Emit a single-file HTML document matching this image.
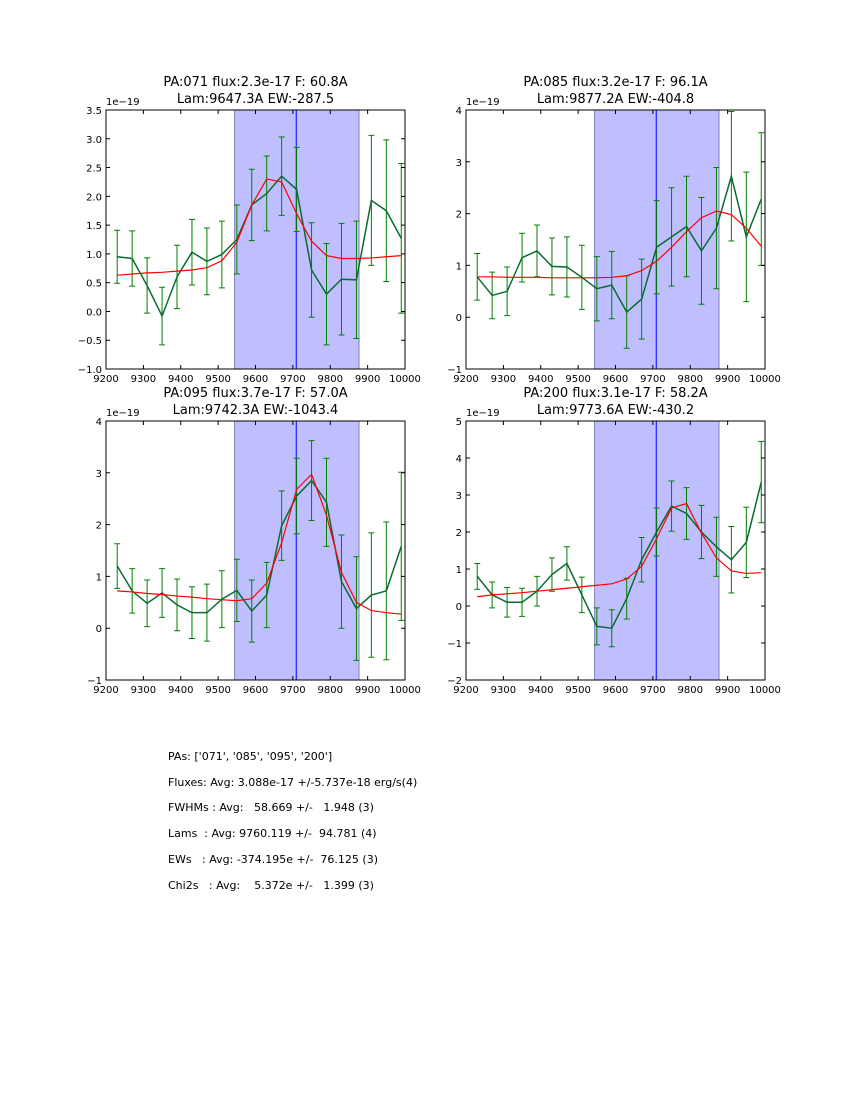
<!DOCTYPE html>
<html><head><meta charset="utf-8"><style>
body{margin:0;background:#fff;width:850px;height:1100px;overflow:hidden;font-family:"DejaVu Sans","Liberation Sans",sans-serif}
#stats{position:absolute;left:168px;top:744px;font-size:11px;white-space:pre;line-height:25.7px}
</style></head><body>
<svg id="fig" width="850" height="1100" style="position:absolute;left:0;top:0;font-family:'DejaVu Sans','Liberation Sans',sans-serif"></svg>
<div id="stats">PAs: ['071', '085', '095', '200']
Fluxes: Avg: 3.088e-17 +/-5.737e-18 erg/s(4)
FWHMs : Avg:   58.669 +/-   1.948 (3)
Lams  : Avg: 9760.119 +/-  94.781 (4)
EWs   : Avg: -374.195e +/-  76.125 (3)
Chi2s   : Avg:    5.372e +/-   1.399 (3)</div>
<script>
const xCats=[9230,9270,9310,9350,9390,9430,9470,9510,9550,9590,9630,9670,9710,9750,9790,9830,9870,9910,9950,9990];
const xTicks=[9200,9300,9400,9500,9600,9700,9800,9900,10000];
const flux1=[0.95,0.92,0.45,-0.08,0.6,1.03,0.87,0.99,1.25,1.85,2.05,2.35,2.12,0.72,0.3,0.56,0.55,1.93,1.75,1.27];
const err1=[0.46,0.48,0.48,0.5,0.55,0.57,0.58,0.58,0.6,0.62,0.65,0.68,0.73,0.82,0.88,0.97,1.02,1.13,1.23,1.3];
const model1=[0.63,0.65,0.67,0.68,0.70,0.72,0.76,0.88,1.2,1.85,2.3,2.25,1.7,1.22,0.97,0.92,0.92,0.93,0.95,0.97];
const yTicks1=[-1.0,-0.5,0.0,0.5,1.0,1.5,2.0,2.5,3.0,3.5];
const flux2=[0.78,0.42,0.5,1.15,1.28,0.98,0.97,0.77,0.55,0.62,0.1,0.35,1.35,1.55,1.75,1.28,1.72,2.72,1.55,2.28];
const err2=[0.45,0.45,0.47,0.47,0.5,0.55,0.58,0.62,0.62,0.65,0.7,0.77,0.9,0.95,0.97,1.03,1.17,1.25,1.25,1.28];
const model2=[0.78,0.78,0.77,0.77,0.77,0.76,0.76,0.76,0.76,0.77,0.8,0.9,1.08,1.35,1.65,1.92,2.05,1.98,1.72,1.37];
const yTicks2=[-1,0,1,2,3,4];
const flux3=[1.2,0.72,0.48,0.68,0.45,0.3,0.3,0.56,0.73,0.33,0.64,1.98,2.55,2.85,2.43,0.9,0.38,0.64,0.72,1.58];
const err3=[0.43,0.43,0.45,0.47,0.5,0.5,0.55,0.55,0.6,0.6,0.63,0.67,0.73,0.77,0.85,0.9,1.0,1.2,1.33,1.43];
const model3=[0.72,0.70,0.67,0.65,0.62,0.6,0.57,0.55,0.53,0.57,0.87,1.65,2.68,2.97,2.18,1.08,0.5,0.34,0.3,0.27];
const yTicks3=[-1,0,1,2,3,4];
const flux4=[0.8,0.3,0.1,0.1,0.4,0.85,1.15,0.3,-0.55,-0.6,0.2,1.25,2.0,2.7,2.5,2.0,1.6,1.25,1.72,3.35];
const err4=[0.35,0.35,0.4,0.38,0.4,0.45,0.45,0.48,0.5,0.5,0.55,0.6,0.65,0.68,0.7,0.72,0.8,0.9,0.95,1.1];
const model4=[0.25,0.3,0.33,0.36,0.4,0.44,0.48,0.52,0.56,0.6,0.73,1.07,1.82,2.65,2.77,1.97,1.3,0.95,0.88,0.9];
const yTicks4=[-2,-1,0,1,2,3,4,5];
const titles=[["PA:071 flux:2.3e-17 F: 60.8A","Lam:9647.3A EW:-287.5"],["PA:085 flux:3.2e-17 F: 96.1A","Lam:9877.2A EW:-404.8"],["PA:095 flux:3.7e-17 F: 57.0A","Lam:9742.3A EW:-1043.4"],["PA:200 flux:3.1e-17 F: 58.2A","Lam:9773.6A EW:-430.2"]];
const bandLo=9544,bandHi=9877,lineX=9709;
const NS="http://www.w3.org/2000/svg";
const svg=document.getElementById('fig');
function mk(t,a,p){const e=document.createElementNS(NS,t);for(const k in a)e.setAttribute(k,a[k]);(p||svg).appendChild(e);return e;}
const panels=[
 {x:106,y:110,f:flux1,e:err1,m:model1,yt:yTicks1,yl:[-1,3.5],dec:1},
 {x:466,y:110,f:flux2,e:err2,m:model2,yt:yTicks2,yl:[-1,4],dec:0},
 {x:106,y:421,f:flux3,e:err3,m:model3,yt:yTicks3,yl:[-1,4],dec:0},
 {x:466,y:421,f:flux4,e:err4,m:model4,yt:yTicks4,yl:[-2,5],dec:0}];
const W=299,H=259;
panels.forEach((P,pi)=>{
 const g=mk('g',{});
 
 
 const sx=v=>P.x+(v-9200)/800*W;
 const sy=v=>P.y+H-(v-P.yl[0])/(P.yl[1]-P.yl[0])*H;
 const cp='cp'+pi;
 const c=mk('clipPath',{id:cp},g);mk('rect',{x:P.x,y:P.y,width:W,height:H},c);
 const band=mk('rect',{x:sx(bandLo),y:P.y,width:sx(bandHi)-sx(bandLo),height:H,fill:'#bfbfff',stroke:'#8080c0','stroke-width':1},g);
 
 
 const vl=mk('line',{x1:sx(lineX),x2:sx(lineX),y1:P.y,y2:P.y+H,stroke:'#0000ff','stroke-width':1},g);
 
 
 const inner=mk('g',{'clip-path':'url(#'+cp+')'},g);
 xCats.forEach((x,i)=>{
  const X=sx(x),t=sy(P.f[i]+P.e[i]),b=sy(P.f[i]-P.e[i]);
  const eb=mk('path',{d:`M${X},${t}V${b}M${X-3},${t}H${X+3}M${X-3},${b}H${X+3}`,stroke:'#008000','stroke-width':1,fill:'none'},inner);
  
  
 });
 const dl=mk('polyline',{points:xCats.map((x,i)=>sx(x)+','+sy(P.f[i])).join(' '),fill:'none',stroke:'#0a6b30','stroke-width':1.5},inner);
 
 
 const ml=mk('polyline',{points:xCats.map((x,i)=>sx(x)+','+sy(P.m[i])).join(' '),fill:'none',stroke:'#ff0000','stroke-width':1.2},inner);
 
 
 mk('rect',{x:P.x,y:P.y,width:W,height:H,fill:'none',stroke:'#000','stroke-width':1},g);
 xTicks.forEach(v=>{
  const X=sx(v);
  mk('path',{d:`M${X},${P.y+H}v-4M${X},${P.y}v4`,stroke:'#000'},g);
  const t=mk('text',{x:X,y:P.y+H+13,'text-anchor':'middle','font-size':10},g);t.textContent=v;
  
  
 });
 P.yt.forEach(v=>{
  const Y=sy(v);
  mk('path',{d:`M${P.x},${Y}h4M${P.x+W},${Y}h-4`,stroke:'#000'},g);
  const t=mk('text',{x:P.x-4,y:Y+4,'text-anchor':'end','font-size':10},g);t.textContent=(v<0?'\u2212':'')+Math.abs(v).toFixed(P.dec);
  
  
 });
 const ex=mk('text',{x:P.x,y:P.y-5,'font-size':10},g);ex.textContent='1e\u221219';
 
 
 titles[pi].forEach((s,k)=>{
  const t=mk('text',{x:P.x+W/2,y:P.y-24+k*17,'text-anchor':'middle','font-size':13},g);t.textContent=s;
  
  
 });
});
</script>
</body></html>
